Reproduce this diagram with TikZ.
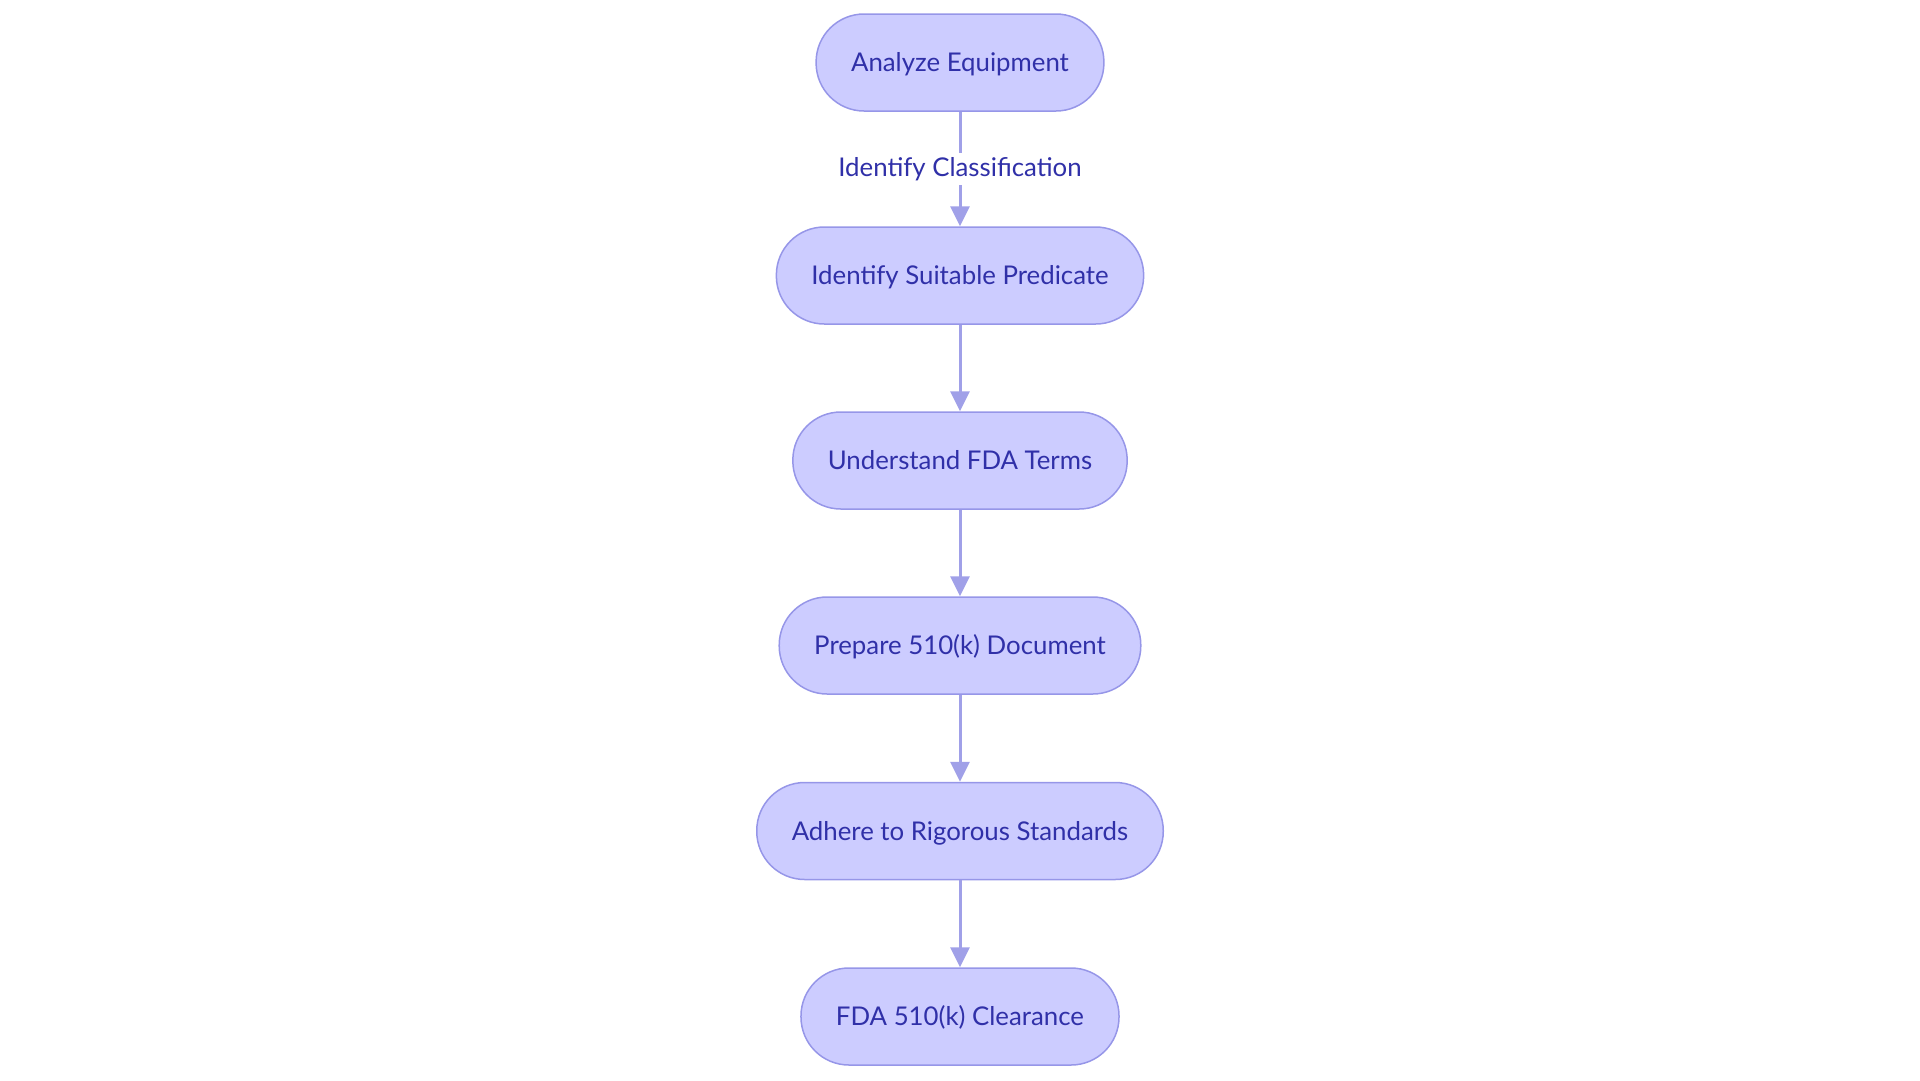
\documentclass[tikz,border=0pt]{standalone}
\usepackage{fontspec}
\setmainfont{Lato}
\usetikzlibrary{arrows.meta,positioning}
\definecolor{lilac}{RGB}{204,204,255}
\definecolor{lilacline}{RGB}{150,150,232}
\definecolor{navy}{RGB}{48,48,168}
\definecolor{wire}{RGB}{160,160,232}
\tikzset{
  x=1pt,y=1pt,
  >={Triangle[length=20pt,width=19pt]},
  stage/.style={draw=lilacline,fill=lilac,line width=1.5pt,rounded corners=48pt,
    minimum height=97pt,inner xsep=35pt,text height=18pt,text depth=0pt,
    text=navy,font=\fontsize{25.8}{30}\selectfont},
  flow/.style={->,line width=3pt,draw=wire},
  tag/.style={fill=white,text=navy,font=\fontsize{25.8}{30}\selectfont,inner sep=4pt},
}
\begin{document}
\begin{tikzpicture}
  \useasboundingbox (0,0) rectangle (1920,-1080);
  \node[stage] (analyze) at (960,-62.5) {Analyze Equipment};
  \node[stage] (predicate) at (960,-275.5) {Identify Suitable Predicate};
  \node[stage] (terms) at (960,-460.5) {Understand FDA Terms};
  \node[stage] (document) at (960,-645.5) {Prepare 510(k) Document};
  \node[stage] (standards) at (960,-831) {Adhere to Rigorous Standards};
  \node[stage] (clearance) at (960,-1016.5) {FDA 510(k) Clearance};
  \draw[flow] (analyze) -- node[tag] {Identify Classification} (predicate);
  \draw[flow] (predicate) -- (terms);
  \draw[flow] (terms) -- (document);
  \draw[flow] (document) -- (standards);
  \draw[flow] (standards) -- (clearance);
\end{tikzpicture}
\end{document}
